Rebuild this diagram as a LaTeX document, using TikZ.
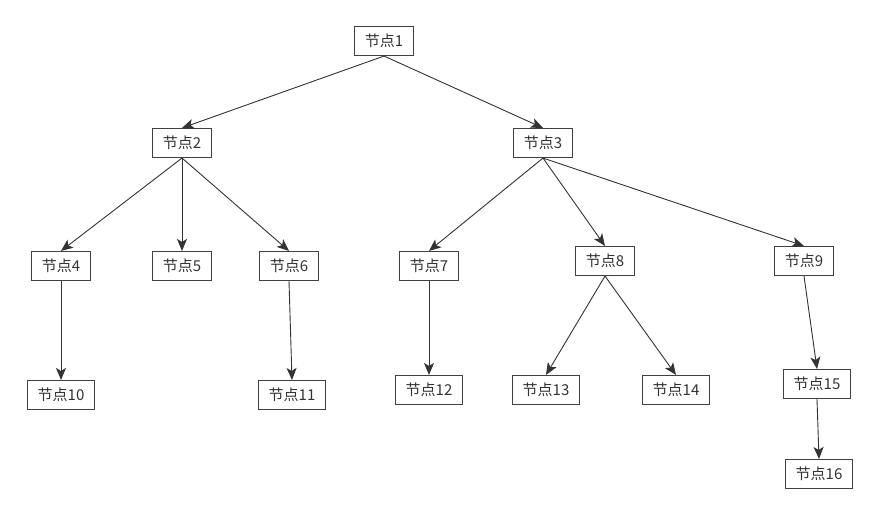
\documentclass[tikz,border=0pt]{standalone}
\usepackage{fontspec}
\setmainfont{Noto Sans CJK SC}
\usetikzlibrary{arrows.meta}
\begin{document}
\begin{tikzpicture}[x=1pt,y=-1pt,
  box/.style={draw=black!75,line width=1.1pt,fill=white,minimum height=29pt,inner xsep=10.5pt,inner ysep=0pt,font=\fontsize{15pt}{17pt}\selectfont,text=black!80},
  arr/.style={draw=black!80,line width=0.9pt,-{Stealth[length=12pt,width=10pt,inset=3pt]},shorten >=0pt}]
\useasboundingbox (0,0) rectangle (881,515);
\fill[white] (0,0) rectangle (881,515);
\node[box] (n1) at (384,41) {节点1};
\node[box] (n2) at (182,143) {节点2};
\node[box] (n3) at (543,143) {节点3};
\node[box] (n4) at (61,266) {节点4};
\node[box] (n5) at (182,266) {节点5};
\node[box] (n6) at (289,266) {节点6};
\node[box] (n7) at (429,266) {节点7};
\node[box] (n8) at (605,261) {节点8};
\node[box] (n9) at (804,261) {节点9};
\node[box] (n10) at (61,395) {节点10};
\node[box] (n11) at (292,395) {节点11};
\node[box] (n12) at (429,390) {节点12};
\node[box] (n13) at (546,390) {节点13};
\node[box] (n14) at (676,390) {节点14};
\node[box] (n15) at (817,384) {节点15};
\node[box] (n16) at (819,474) {节点16};
\foreach \a/\b in {n1/n2,n1/n3,n2/n4,n2/n5,n2/n6,n3/n7,n3/n8,n3/n9,n4/n10,n6/n11,n7/n12,n8/n13,n8/n14,n9/n15,n15/n16}
  \draw[arr] (\a.south) -- (\b.north);
\end{tikzpicture}
\end{document}
